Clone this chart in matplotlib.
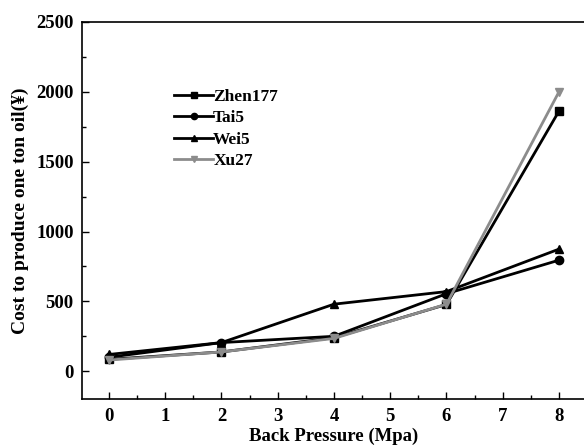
import matplotlib
matplotlib.use("Agg")
import matplotlib.pyplot as plt
from matplotlib.ticker import MultipleLocator

plt.rcParams['font.family'] = ['Liberation Serif', 'DejaVu Serif']
plt.rcParams['font.weight'] = 'bold'

pressure = [0, 2, 4, 6, 8]
zhen177 = [85, 138, 240, 478, 1862]
tai5 = [100, 205, 250, 555, 795]
wei5 = [120, 205, 480, 570, 874]
xu27 = [80, 138, 235, 480, 2000]

series_names = ['Zhen177', 'Tai5', 'Wei5', 'Xu27']
series_values = [zhen177, tai5, wei5, xu27]
colors = ['black', 'black', 'black', '#8c8c8c']
markers = ['s', 'o', '^', 'v']

fig = plt.figure(figsize=(5.84, 4.48), dpi=100)
ax = fig.add_axes([0.1404, 0.109, 0.863, 0.842])

for name, vals, c, m in zip(series_names, series_values, colors, markers):
    ax.plot(pressure, vals, color=c, marker=m, markersize=6, linewidth=2, label=name)

ax.set_xlim(-0.48, 8.48)
ax.set_ylim(-200, 2500)
ax.xaxis.set_major_locator(MultipleLocator(1))
ax.xaxis.set_minor_locator(MultipleLocator(0.5))
ax.yaxis.set_major_locator(MultipleLocator(500))
ax.yaxis.set_minor_locator(MultipleLocator(250))
ax.tick_params(which='both', direction='in', labelsize=13.5)
ax.tick_params(which='major', length=5, width=1)
ax.tick_params(which='minor', length=3, width=1)
for lab in ax.get_xticklabels() + ax.get_yticklabels():
    lab.set_fontweight('bold')
ax.tick_params(axis='x', pad=6)
ax.tick_params(axis='y', pad=6)
for sp in ax.spines.values():
    sp.set_linewidth(1.2)

ax.set_xlabel('Back Pressure (Mpa)', fontsize=13.5, fontweight='bold', labelpad=2)
ax.set_ylabel('Cost to produce one ton oil(¥)', fontsize=14, fontweight='bold', labelpad=5)

leg = ax.legend(loc='upper left', bbox_to_anchor=(0.169, 0.841), frameon=False,
                fontsize=12.5, handlelength=2.25, handletextpad=0.0, markerscale=0.75,
                labelspacing=0.3, borderaxespad=0)

fig.savefig('out.png', dpi=100)
